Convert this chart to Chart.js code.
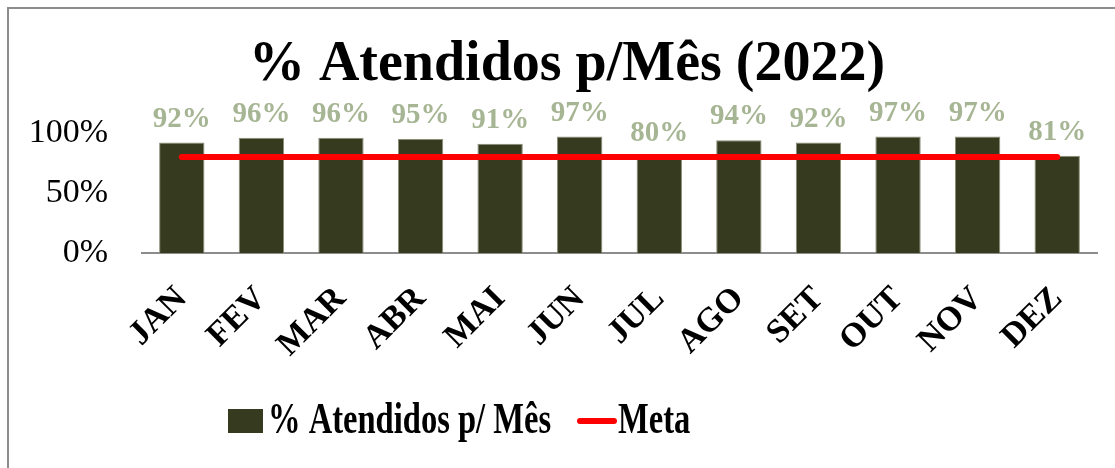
<!DOCTYPE html>
<html><head><meta charset="utf-8">
<script src="https://cdn.jsdelivr.net/npm/chart.js@4/dist/chart.umd.min.js"></script>
<style>
html,body{margin:0;padding:0;background:#fff;}
#wrap{position:relative;width:1115px;height:468px;}
</style></head>
<body><div id="wrap"><canvas id="c" width="1115" height="468"></canvas></div>
<script>
const categories = ['JAN','FEV','MAR','ABR','MAI','JUN','JUL','AGO','SET','OUT','NOV','DEZ'];
const atendidos = [0.92,0.96,0.96,0.95,0.91,0.97,0.80,0.94,0.92,0.97,0.97,0.81];
const meta = [0.80,0.80,0.80,0.80,0.80,0.80,0.80,0.80,0.80,0.80,0.80,0.80];
const yTicks = [0, 0.5, 1.0];
const titleText = '% Atendidos p/Mês (2022)';
const legendLabels = ['% Atendidos p/ Mês', 'Meta'];

const BAR = '#363B1F', LABEL = '#A6B593', RED = '#FF0000';
const SERIF = '"Liberation Serif", "DejaVu Serif", serif';

const decor = {
  id: 'decor',
  beforeDraw(chart) {
    const ctx = chart.ctx;
    ctx.save();
    ctx.fillStyle = '#fff';
    ctx.fillRect(0, 0, chart.width, chart.height);
    ctx.strokeStyle = '#8c8c8c';
    ctx.lineWidth = 2;
    ctx.strokeRect(8, 8, chart.width + 20, chart.height + 20);
    ctx.restore();
  },
  afterDraw(chart) {
    const ctx = chart.ctx;
    ctx.save();
    // title
    ctx.fillStyle = '#000';
    ctx.font = 'bold 56px ' + SERIF;
    ctx.textAlign = 'center';
    ctx.textBaseline = 'alphabetic';
    ctx.fillText(titleText, 567, 80);
    // data labels
    const meta0 = chart.getDatasetMeta(0);
    const barMeta = chart.getDatasetMeta(1);
    ctx.font = 'bold 29px ' + SERIF;
    ctx.fillStyle = LABEL;
    ctx.textBaseline = 'alphabetic';
    barMeta.data.forEach((el, i) => {
      ctx.fillText(Math.round(atendidos[i] * 100) + '%', el.x, el.y - 16);
    });
    // legend
    ctx.fillStyle = BAR;
    ctx.fillRect(228, 409, 35, 24);
    ctx.strokeStyle = RED;
    ctx.lineWidth = 6;
    ctx.lineCap = 'round';
    ctx.beginPath(); ctx.moveTo(580, 421); ctx.lineTo(614, 421); ctx.stroke();
    ctx.fillStyle = '#000';
    ctx.textAlign = 'left';
    ctx.textBaseline = 'alphabetic';
    ctx.font = 'bold 44px ' + SERIF;
    const sx = 0.74;
    ctx.save(); ctx.translate(268, 433); ctx.scale(sx, 1); ctx.fillText(legendLabels[0], 0, 0); ctx.restore();
    ctx.save(); ctx.translate(618, 433); ctx.scale(sx, 1); ctx.fillText(legendLabels[1], 0, 0); ctx.restore();
    ctx.restore();
  }
};

new Chart(document.getElementById('c'), {
  data: {
    labels: categories,
    datasets: [
      { type: 'line', label: legendLabels[1], data: meta, borderColor: RED, borderWidth: 6,
        borderCapStyle: 'round', pointRadius: 0, fill: false, order: 0 },
      { type: 'bar', label: legendLabels[0], data: atendidos, backgroundColor: BAR,
        borderColor: '#8a8f78', borderWidth: 1, categoryPercentage: 1.0, barPercentage: 0.57, order: 1 }
    ]
  },
  options: {
    responsive: false,
    animation: false,
    events: [],
    layout: { padding: { left: 0, right: 18, top: 109, bottom: 0 } },
    plugins: { legend: { display: false }, title: { display: false }, tooltip: { enabled: false } },
    scales: {
      x: {
        grid: { display: false, drawTicks: false },
        border: { display: true, color: '#8c8c8c', width: 2 },
        ticks: { color: '#000', font: { family: SERIF, size: 34, weight: 'bold' },
          maxRotation: 45, minRotation: 45, padding: 26 },
        afterFit(s) { s.height = 215; }
      },
      y: {
        min: 0, max: 1.2,
        grid: { display: false, drawTicks: false },
        border: { display: false },
        afterBuildTicks(s) { s.ticks = yTicks.map(v => ({ value: v })); },
        ticks: { color: '#000', font: { family: SERIF, size: 34 }, padding: 34,
          callback: v => Math.round(v * 100) + '%' },
        afterFit(s) { s.width = 142; }
      }
    }
  },
  plugins: [decor]
});
</script></body></html>
